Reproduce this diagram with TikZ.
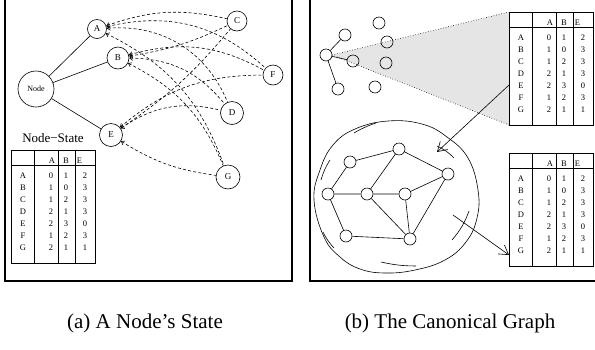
\documentclass[tikz,border=0pt]{standalone}
\usepackage{fontspec}
\setmainfont{Liberation Serif}
\usetikzlibrary{arrows.meta,calc}
\tikzset{
  panel/.style={line width=1.1pt},
  gnode/.style={circle,draw,line width=0.6pt,inner sep=0pt,minimum size=#1,font=\fontsize{9}{10}\selectfont},
  gnode/.default=21pt,
  dotnode/.style={circle,draw,line width=0.6pt,inner sep=0pt,minimum size=12pt},
  link/.style={line width=0.6pt},
  hop/.style={line width=0.6pt,dash pattern=on 3pt off 2.2pt,{Straight Barb[length=3pt,width=4.5pt]}-},
  cell/.style={inner sep=0pt,font=\fontsize{8.5}{9}\selectfont,anchor=base},
  bigarrow/.style={line width=0.6pt,-{Straight Barb[length=9pt,width=11pt]}},
  ring/.style={line width=0.6pt},
  caption/.style={font=\fontsize{21}{24}\selectfont,anchor=base},
  statetable/.pic={
    \node[draw,line width=0.8pt,anchor=north west,minimum width=84pt,minimum height=113pt,inner sep=0pt] (-box) at (0,0) {};
    \draw[line width=0.8pt] (23,0) -- (23,113) (47,0) -- (47,113) (64,0) -- (64,113);
    \draw[line width=0.8pt] (0,15.5) -- (84,15.5);
    \node[cell] (-hA) at (41,13) {A};
    \node[cell] (-hB) at (55,13) {B};
    \node[cell] (-hE) at (68.5,13) {E};
    \foreach \lab/\va/\vb/\ve [count=\i] in {A/0/1/2,B/1/0/3,C/1/2/3,D/2/1/3,E/2/3/0,F/1/2/3,G/2/1/1}{
      \node[cell] (-r\i) at (12,16+12*\i) {\lab};
      \node[cell] (-a\i) at (40,16+12*\i) {\va};
      \node[cell] (-b\i) at (55,16+12*\i) {\vb};
      \node[cell] (-e\i) at (74,16+12*\i) {\ve};
    }
  }
}
\begin{document}
\begin{tikzpicture}[x=1pt,y=-1pt]
\useasboundingbox (0,0) rectangle (595,349);

% ---- panel frames ----
\draw[panel] (5,0) -- (5,281) -- (292,281) -- (292,0);
\draw[panel] (310,0) -- (310,281) -- (595,281);

% ---- (a) a node and its neighbourhood ----
\node[gnode=36pt,font=\fontsize{8}{9}\selectfont] (nd) at (36,89) {Node};
\node[gnode=19pt] (a) at (97,29) {A};
\node[gnode=22pt] (b) at (118,58) {B};
\node[gnode=23pt] (e) at (111,135) {E};
\node[gnode=20pt] (c) at (237,21) {C};
\node[gnode=20pt] (f) at (273,75) {F};
\node[gnode=23pt] (d) at (232,113) {D};
\node[gnode=24pt] (g) at (228,177) {G};

\draw[link] (nd) -- (a);
\draw[link] (nd) -- (b);
\draw[link] (nd) -- (e);

% dashed routes from the direct neighbours to the far nodes
\draw[hop] (a) to[bend left=16] (c);
\draw[hop] (a) to[bend left=28] (f);
\draw[hop] (a) to[bend left=36] (d);
\draw[hop] (a) to[bend left=22] (g);
\draw[hop] (b) to[bend right=8] (c);
\draw[hop] (b) to[bend left=22] (f);
\draw[hop] (b) to[bend left=25] (d);
\draw[hop] (b) to[bend left=20] (g);
\draw[hop] (e) to[bend right=8] (c);
\draw[hop] (e) to[bend left=20] (f);
\draw[hop] (e) to[bend left=24] (d);
\draw[hop] (e) to[bend right=12] (g);

\node[font=\fontsize{13}{15}\selectfont] (ttl) at (53,138) {Node−State};
\pic (t1) at (11,150) {statetable};

% ---- (b) local view spread into the canonical graph ----
\coordinate (apex) at (332,55);
\coordinate (tr) at (509,12);
\coordinate (trb) at (509,125);
\fill[gray!20] (apex) -- (tr) -- (trb) -- cycle;
\draw[line width=0.6pt,dotted] (apex) -- (tr) (apex) -- (trb);

\node[dotnode] (h) at (326,55) {};
\node[dotnode] (p1) at (345,35) {};
\node[dotnode] (p2) at (353,61) {};
\node[dotnode] (p3) at (338,89) {};
\node[dotnode] (p4) at (379,23) {};
\node[dotnode] (p5) at (387,42) {};
\node[dotnode] (p6) at (386,63) {};
\node[dotnode] (p7) at (375,87) {};
\draw[link] (h) -- (p1) (h) -- (p2) (h) -- (p3);

\pic (t2) at (tr) {statetable};
\pic (t3) at (509,153) {statetable};

% ring of arcs around the whole graph
\draw[ring] plot[smooth cycle,tension=0.7] coordinates {(314,200) (320,170) (333,145) (355,129) (388,121) (422,124) (447,137) (468,158) (478,190) (477,218) (466,242) (445,260) (415,270) (385,273) (360,269) (340,257) (324,237)};
\draw[ring] (321,180) to[bend left=8] (330,160);
\draw[ring] (323,232) to[bend right=8] (334,248);
\draw[ring] (381,262) to[bend right=6] (416,266);
\draw[ring] (452,240) to[bend right=10] (469,211);
\draw[ring] (437,146) to[bend left=10] (454,158);
\draw[ring] (354,133) to[bend left=6] (376,123);

\node[dotnode] (n1) at (350,162) {};
\node[dotnode] (n2) at (399,149) {};
\node[dotnode] (n3) at (448,174) {};
\node[dotnode] (n4) at (328,194) {};
\node[dotnode] (n5) at (367,194) {};
\node[dotnode] (n6) at (405,194) {};
\node[dotnode] (n7) at (346,236) {};
\node[dotnode] (n8) at (410,239) {};
\draw[link] (n1) -- (n2) (n2) -- (n3) (n1) -- (n4) (n2) -- (n5)
            (n4) -- (n5) (n5) -- (n6) (n6) -- (n3) (n4) -- (n7)
            (n7) -- (n8) (n5) -- (n8) (n6) -- (n8) (n3) -- (n8);

\coordinate (s1) at ($(t2-box.north west)+(0,73)$);
\coordinate (e1) at (437,152);
\coordinate (s2) at (453,215);
\coordinate (e2) at ($(t3-box.north west)+(0,102)$);
\draw[bigarrow] (s1) -- (e1);
\draw[bigarrow] (s2) -- (e2);

% ---- captions ----
\node[caption] (capa) at (145,328) {(a) A Node's State};
\node[caption] (capb) at (450,328) {(b) The Canonical Graph};
\end{tikzpicture}
\end{document}
